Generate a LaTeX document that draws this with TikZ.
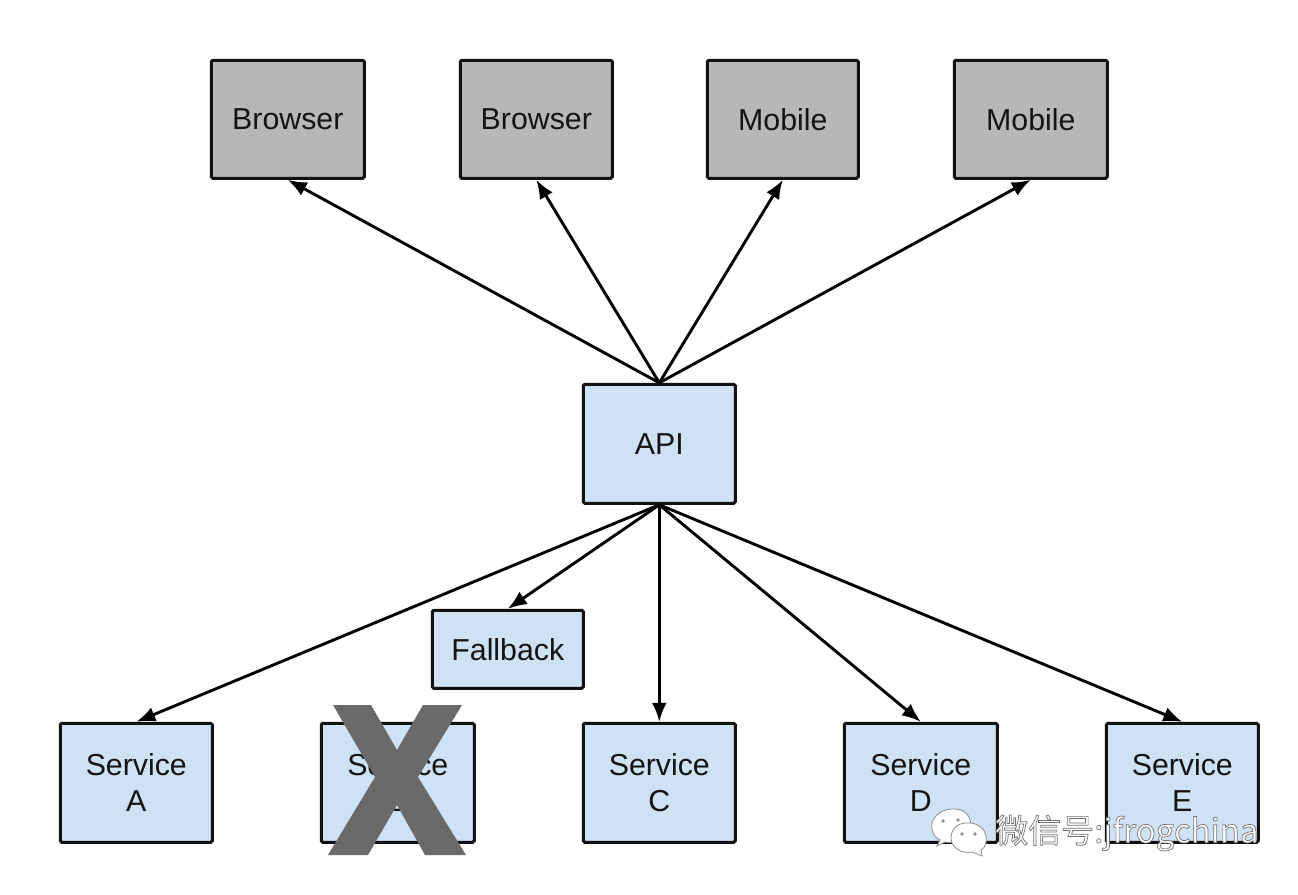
\documentclass[tikz,border=0pt]{standalone}
\usepackage{fontspec}
\setmainfont{Liberation Sans}
\newfontfamily\cjkfont{Noto Sans CJK SC}
\usetikzlibrary{arrows.meta}
\definecolor{clientgrey}{HTML}{B7B7B7}
\definecolor{svcblue}{HTML}{CFE2F3}
\definecolor{boxline}{HTML}{111111}
\definecolor{crossgrey}{HTML}{6A6A6A}
\tikzset{
  boxbase/.style={draw=boxline,line width=3pt,rounded corners=1.5pt,anchor=north west,align=center,
    font=\fontsize{30.3}{36}\selectfont,text=black!92,inner sep=0pt},
  client/.style={boxbase,fill=clientgrey},
  svc/.style={boxbase,fill=svcblue},
  link/.style={-{Latex[length=19pt,width=15pt]},line width=2.9pt,black},
  marktext/.style={font=\cjkfont\fontsize{33}{36}\selectfont,anchor=west,inner sep=0pt},
  bubble/.style={draw=black!45,line width=0.8pt,fill=white},
}
\begin{document}
\begin{tikzpicture}[x=1pt,y=-1pt]
\useasboundingbox (0,0) rectangle (1298,894);
\fill[white] (0,0) rectangle (1298,894);
\node[client,minimum width=153pt,minimum height=118pt] (b1) at (209.8,58.8) {Browser};
\node[client,minimum width=152pt,minimum height=118pt] (b2) at (458.8,58.8) {Browser};
\node[client,minimum width=151pt,minimum height=118pt] (m1) at (705.8,58.8) {Mobile};
\node[client,minimum width=153pt,minimum height=118pt] (m2) at (952.8,58.8) {Mobile};
\node[svc,minimum width=152pt,minimum height=119pt] (api) at (581.8,382.8) {API};
\node[svc,minimum width=151pt,minimum height=78pt] (fb) at (430.8,608.8) {Fallback};
\node[svc,minimum width=152pt,minimum height=119pt] (sa) at (58.8,721.8) {Service\\A};
\node[svc,minimum width=153pt,minimum height=119pt] (sb) at (319.8,721.8) {Service\\B};
\node[svc,minimum width=152pt,minimum height=119pt] (sc) at (581.8,721.8) {Service\\C};
\node[svc,minimum width=153pt,minimum height=119pt] (sd) at (842.8,721.8) {Service\\D};
\node[svc,minimum width=152pt,minimum height=119pt] (se) at (1104.8,721.8) {Service\\E};
\foreach \t in {b1,b2,m1,m2} \draw[link] (api.north) -- (\t.south);
\foreach \t in {fb,sa,sc,sd,se} \draw[link] (api.south) -- (\t.north);
\fill[crossgrey] (333,705) -- (371,705) -- (397,750) -- (423,705) -- (462,705) -- (418,777)
  -- (466,855) -- (425,855) -- (397,805) -- (368,855) -- (328,855) -- (375,777) -- cycle;
% watermark
\draw[bubble] (956,809) .. controls (938,808) and (930,820) .. (932,829)
  .. controls (933,835) and (936,838) .. (940,840) -- (937,846) -- (945,842)
  .. controls (960,845) and (972,835) .. (971,825)
  .. controls (970,815) and (965,810) .. (956,809) -- cycle;
\draw[bubble] (969,823) .. controls (955,822) and (951,832) .. (951,838)
  .. controls (951,848) and (962,854) .. (972,852) -- (982,856) -- (981,850)
  .. controls (986,847) and (987,842) .. (986,836)
  .. controls (985,829) and (978,823) .. (969,823) -- cycle;
\fill[black!45] (943,821) circle (1.8pt) (958,820) circle (1.8pt) (962,834) circle (1.8pt) (975,834) circle (1.8pt);
\node[marktext] (wt) at (995,833) {\special{pdf:code q 2 Tr 0.7 w 0.45 G 1 g}微信号:jfrogchina\special{pdf:code Q}};
\end{tikzpicture}
\end{document}
